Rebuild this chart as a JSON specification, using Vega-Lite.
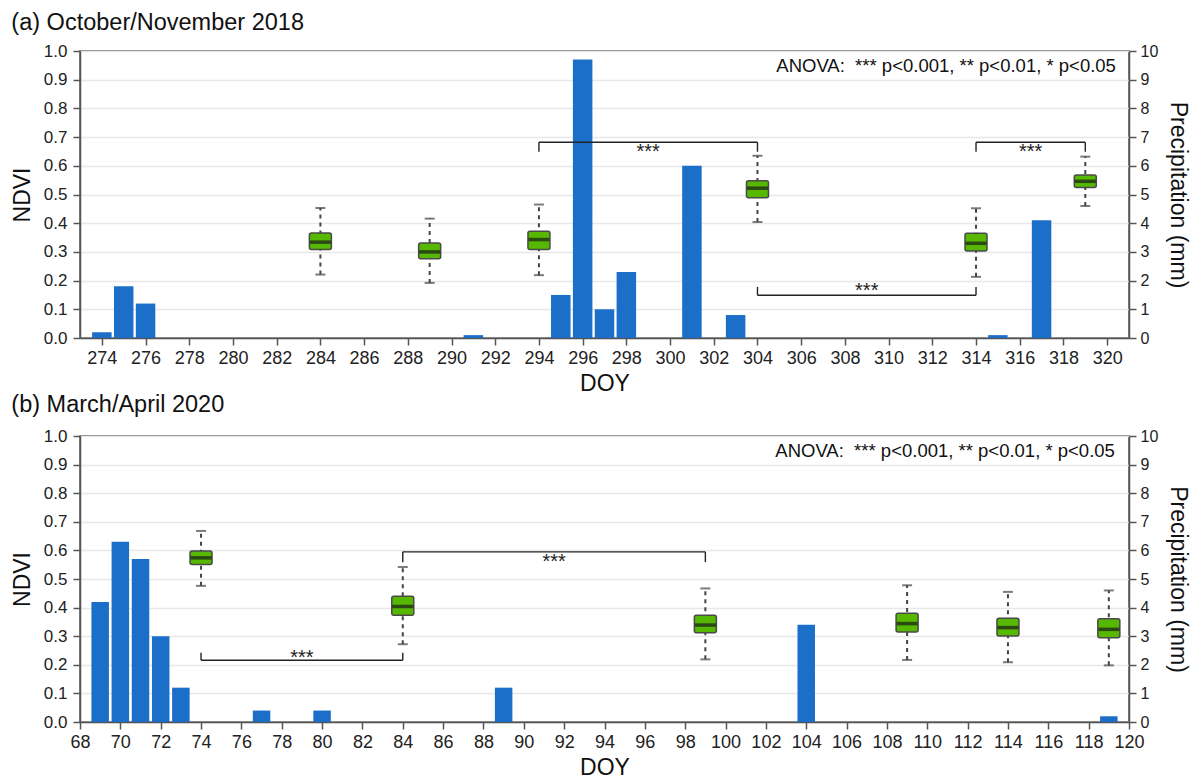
{
  "$schema": "https://vega.github.io/schema/vega-lite/v6.json",
  "padding": {"left": 10, "top": 9, "right": 6, "bottom": 0},
  "spacing": -5,
  "config": {
    "font": "Liberation Sans",
    "view": {"stroke": "#555555", "strokeWidth": 1.5},
    "scale": {"continuousPadding": 0},
    "axis": {
      "labelColor": "#222222", "labelFlush": false, "labelOverlap": false,
      "titleFontWeight": "normal", "titleColor": "#111111",
      "domainColor": "#555555", "domainWidth": 1.5, "tickColor": "#555555", "tickWidth": 1.5, "tickSize": 7,
      "labelPadding": 4, "gridColor": "#e8e8e8", "gridWidth": 1.5
    },
    "axisX": {"titlePadding": 5, "labelFontSize": 18, "titleFontSize": 23},
    "axisLeft": {"titlePadding": 9, "labelFontSize": 17, "titleFontSize": 23, "labelPadding": 6},
    "axisRight": {"titlePadding": 8, "labelFontSize": 16, "titleFontSize": 23},
    "title": {"fontSize": 23.5, "fontWeight": "normal", "color": "#111111", "anchor": "start", "frame": "bounds"}
  },
  "datasets": {
    "precipA": [
      {"doy": 274, "precip": 0.2}, {"doy": 275, "precip": 1.8}, {"doy": 276, "precip": 1.2},
      {"doy": 291, "precip": 0.1}, {"doy": 295, "precip": 1.5}, {"doy": 296, "precip": 9.7},
      {"doy": 297, "precip": 1.0}, {"doy": 298, "precip": 2.3}, {"doy": 301, "precip": 6.0},
      {"doy": 303, "precip": 0.8}, {"doy": 315, "precip": 0.1}, {"doy": 317, "precip": 4.1}
    ],
    "boxA": [
      {"doy": 284, "min": 0.221, "q1": 0.308, "med": 0.334, "q3": 0.366, "max": 0.453},
      {"doy": 289, "min": 0.192, "q1": 0.276, "med": 0.300, "q3": 0.331, "max": 0.416},
      {"doy": 294, "min": 0.219, "q1": 0.308, "med": 0.343, "q3": 0.372, "max": 0.465},
      {"doy": 304, "min": 0.404, "q1": 0.489, "med": 0.522, "q3": 0.548, "max": 0.635},
      {"doy": 314, "min": 0.213, "q1": 0.303, "med": 0.330, "q3": 0.365, "max": 0.452},
      {"doy": 319, "min": 0.460, "q1": 0.524, "med": 0.546, "q3": 0.568, "max": 0.632}
    ],
    "brkA": [
      {"x1": 294, "x2": 304, "y": 0.682, "yEnd": 0.649, "lx": 299, "ly": 0.683, "label": "***"},
      {"x1": 304, "x2": 314, "y": 0.149, "yEnd": 0.178, "lx": 309, "ly": 0.198, "label": "***"},
      {"x1": 314, "x2": 319, "y": 0.682, "yEnd": 0.649, "lx": 316.5, "ly": 0.683, "label": "***"}
    ],
    "precipB": [
      {"doy": 69, "precip": 4.2}, {"doy": 70, "precip": 6.3}, {"doy": 71, "precip": 5.7},
      {"doy": 72, "precip": 3.0}, {"doy": 73, "precip": 1.2}, {"doy": 77, "precip": 0.4},
      {"doy": 80, "precip": 0.4}, {"doy": 89, "precip": 1.2}, {"doy": 104, "precip": 3.4},
      {"doy": 119, "precip": 0.2}
    ],
    "boxB": [
      {"doy": 74, "min": 0.476, "q1": 0.551, "med": 0.574, "q3": 0.598, "max": 0.668},
      {"doy": 84, "min": 0.272, "q1": 0.373, "med": 0.404, "q3": 0.440, "max": 0.542},
      {"doy": 99, "min": 0.219, "q1": 0.312, "med": 0.339, "q3": 0.373, "max": 0.467},
      {"doy": 109, "min": 0.217, "q1": 0.315, "med": 0.344, "q3": 0.380, "max": 0.478},
      {"doy": 114, "min": 0.209, "q1": 0.301, "med": 0.330, "q3": 0.363, "max": 0.455},
      {"doy": 119, "min": 0.198, "q1": 0.295, "med": 0.324, "q3": 0.361, "max": 0.460}
    ],
    "brkB": [
      {"x1": 74, "x2": 84, "y": 0.216, "yEnd": 0.242, "lx": 79, "ly": 0.259, "label": "***"},
      {"x1": 84, "x2": 99, "y": 0.595, "yEnd": 0.559, "lx": 91.5, "ly": 0.596, "label": "***"}
    ],
    "notes": [{"label": "ANOVA:\u00a0 *** p<0.001, ** p<0.01, * p<0.05"}]
  },
  "vconcat": [
    {
      "title": {"text": "(a) October/November 2018", "offset": 8},
      "width": 1049,
      "height": 287,
      "resolve": {"scale": {"x": "independent", "y": "independent"}, "axis": {"x": "independent", "y": "independent"}},
      "layer": [
        {
          "data": {"name": "precipA"},
          "mark": {"type": "bar", "width": 19.5, "color": "#1b6fc8"},
          "encoding": {
            "x": {"field": "doy", "type": "quantitative", "scale": {"domain": [273, 321], "nice": false, "zero": false, "padding": 0},
                  "axis": {"title": "DOY", "grid": false, "labelOverlap": false, "values": [274,276,278,280,282,284,286,288,290,292,294,296,298,300,302,304,306,308,310,312,314,316,318,320]}},
            "y": {"field": "precip", "type": "quantitative", "scale": {"domain": [0, 10], "nice": false, "padding": 0},
                  "axis": {"orient": "right", "title": "Precipitation (mm)", "grid": false, "labelOverlap": false, "values": [0,1,2,3,4,5,6,7,8,9,10], "format": "d"}}
          }
        },
        {
          "data": {"name": "boxA"},
          "mark": {"type": "rule", "color": "#444444", "strokeWidth": 2, "strokeDash": [4, 4]},
          "encoding": {
            "x": {"field": "doy", "type": "quantitative", "scale": {"domain": [273, 321], "nice": false, "zero": false, "padding": 0}, "axis": null},
            "y": {"field": "min", "type": "quantitative", "scale": {"domain": [0, 1], "nice": false, "padding": 0},
                  "axis": {"orient": "left", "title": "NDVI", "grid": true, "labelOverlap": false, "values": [0,0.1,0.2,0.3,0.4,0.5,0.6,0.7,0.8,0.9,1], "format": ".1f"}},
            "y2": {"field": "max"}
          }
        },
        {
          "data": {"name": "boxA"},
          "mark": {"type": "tick", "orient": "horizontal", "color": "#444444", "size": 10, "thickness": 2},
          "encoding": {
            "x": {"field": "doy", "type": "quantitative", "scale": {"domain": [273, 321], "nice": false, "zero": false, "padding": 0}, "axis": null},
            "y": {"field": "min", "type": "quantitative", "scale": {"domain": [0, 1], "nice": false, "padding": 0}, "axis": null}
          }
        },
        {
          "data": {"name": "boxA"},
          "mark": {"type": "tick", "orient": "horizontal", "color": "#444444", "size": 10, "thickness": 2},
          "encoding": {
            "x": {"field": "doy", "type": "quantitative", "scale": {"domain": [273, 321], "nice": false, "zero": false, "padding": 0}, "axis": null},
            "y": {"field": "max", "type": "quantitative", "scale": {"domain": [0, 1], "nice": false, "padding": 0}, "axis": null}
          }
        },
        {
          "data": {"name": "boxA"},
          "mark": {"type": "bar", "width": 22, "color": "#56b800", "stroke": "#4a4a4a", "strokeWidth": 1.5, "cornerRadius": 2},
          "encoding": {
            "x": {"field": "doy", "type": "quantitative", "scale": {"domain": [273, 321], "nice": false, "zero": false, "padding": 0}, "axis": null},
            "y": {"field": "q1", "type": "quantitative", "scale": {"domain": [0, 1], "nice": false, "padding": 0}, "axis": null},
            "y2": {"field": "q3"}
          }
        },
        {
          "data": {"name": "boxA"},
          "mark": {"type": "tick", "orient": "horizontal", "color": "#1a1a1a", "size": 21, "thickness": 3.5},
          "encoding": {
            "x": {"field": "doy", "type": "quantitative", "scale": {"domain": [273, 321], "nice": false, "zero": false, "padding": 0}, "axis": null},
            "y": {"field": "med", "type": "quantitative", "scale": {"domain": [0, 1], "nice": false, "padding": 0}, "axis": null}
          }
        },
        {
          "data": {"name": "brkA"},
          "mark": {"type": "rule", "color": "#222222", "strokeWidth": 1.4},
          "encoding": {
            "x": {"field": "x1", "type": "quantitative", "scale": {"domain": [273, 321], "nice": false, "zero": false, "padding": 0}, "axis": null},
            "x2": {"field": "x2"},
            "y": {"field": "y", "type": "quantitative", "scale": {"domain": [0, 1], "nice": false, "padding": 0}, "axis": null}
          }
        },
        {
          "data": {"name": "brkA"},
          "mark": {"type": "rule", "color": "#222222", "strokeWidth": 1.4},
          "encoding": {
            "x": {"field": "x1", "type": "quantitative", "scale": {"domain": [273, 321], "nice": false, "zero": false, "padding": 0}, "axis": null},
            "y": {"field": "y", "type": "quantitative", "scale": {"domain": [0, 1], "nice": false, "padding": 0}, "axis": null},
            "y2": {"field": "yEnd"}
          }
        },
        {
          "data": {"name": "brkA"},
          "mark": {"type": "rule", "color": "#222222", "strokeWidth": 1.4},
          "encoding": {
            "x": {"field": "x2", "type": "quantitative", "scale": {"domain": [273, 321], "nice": false, "zero": false, "padding": 0}, "axis": null},
            "y": {"field": "y", "type": "quantitative", "scale": {"domain": [0, 1], "nice": false, "padding": 0}, "axis": null},
            "y2": {"field": "yEnd"}
          }
        },
        {
          "data": {"name": "brkA"},
          "mark": {"type": "text", "fontSize": 20, "color": "#222222", "baseline": "top", "align": "center"},
          "encoding": {
            "x": {"field": "lx", "type": "quantitative", "scale": {"domain": [273, 321], "nice": false, "zero": false, "padding": 0}, "axis": null},
            "y": {"field": "ly", "type": "quantitative", "scale": {"domain": [0, 1], "nice": false, "padding": 0}, "axis": null},
            "text": {"field": "label"}
          }
        },
        {
          "data": {"name": "notes"},
          "mark": {"type": "text", "fontSize": 18.5, "color": "#111111", "baseline": "middle", "align": "right"},
          "encoding": {
            "x": {"datum": 320.4, "type": "quantitative", "scale": {"domain": [273, 321], "nice": false, "zero": false, "padding": 0}, "axis": null},
            "y": {"datum": 0.947, "type": "quantitative", "scale": {"domain": [0, 1], "nice": false, "padding": 0}, "axis": null},
            "text": {"field": "label"}
          }
        }
      ]
    },
    {
      "title": {"text": "(b) March/April 2020", "offset": 11},
      "width": 1049,
      "height": 286,
      "resolve": {"scale": {"x": "independent", "y": "independent"}, "axis": {"x": "independent", "y": "independent"}},
      "layer": [
        {
          "data": {"name": "precipB"},
          "mark": {"type": "bar", "width": 17.5, "color": "#1b6fc8"},
          "encoding": {
            "x": {"field": "doy", "type": "quantitative", "scale": {"domain": [68, 120], "nice": false, "zero": false, "padding": 0},
                  "axis": {"title": "DOY", "grid": false, "labelOverlap": false, "values": [68,70,72,74,76,78,80,82,84,86,88,90,92,94,96,98,100,102,104,106,108,110,112,114,116,118,120]}},
            "y": {"field": "precip", "type": "quantitative", "scale": {"domain": [0, 10], "nice": false, "padding": 0},
                  "axis": {"orient": "right", "title": "Precipitation (mm)", "grid": false, "labelOverlap": false, "values": [0,1,2,3,4,5,6,7,8,9,10], "format": "d"}}
          }
        },
        {
          "data": {"name": "boxB"},
          "mark": {"type": "rule", "color": "#444444", "strokeWidth": 2, "strokeDash": [4, 4]},
          "encoding": {
            "x": {"field": "doy", "type": "quantitative", "scale": {"domain": [68, 120], "nice": false, "zero": false, "padding": 0}, "axis": null},
            "y": {"field": "min", "type": "quantitative", "scale": {"domain": [0, 1], "nice": false, "padding": 0},
                  "axis": {"orient": "left", "title": "NDVI", "grid": true, "labelOverlap": false, "values": [0,0.1,0.2,0.3,0.4,0.5,0.6,0.7,0.8,0.9,1], "format": ".1f"}},
            "y2": {"field": "max"}
          }
        },
        {
          "data": {"name": "boxB"},
          "mark": {"type": "tick", "orient": "horizontal", "color": "#444444", "size": 10, "thickness": 2},
          "encoding": {
            "x": {"field": "doy", "type": "quantitative", "scale": {"domain": [68, 120], "nice": false, "zero": false, "padding": 0}, "axis": null},
            "y": {"field": "min", "type": "quantitative", "scale": {"domain": [0, 1], "nice": false, "padding": 0}, "axis": null}
          }
        },
        {
          "data": {"name": "boxB"},
          "mark": {"type": "tick", "orient": "horizontal", "color": "#444444", "size": 10, "thickness": 2},
          "encoding": {
            "x": {"field": "doy", "type": "quantitative", "scale": {"domain": [68, 120], "nice": false, "zero": false, "padding": 0}, "axis": null},
            "y": {"field": "max", "type": "quantitative", "scale": {"domain": [0, 1], "nice": false, "padding": 0}, "axis": null}
          }
        },
        {
          "data": {"name": "boxB"},
          "mark": {"type": "bar", "width": 22, "color": "#56b800", "stroke": "#4a4a4a", "strokeWidth": 1.5, "cornerRadius": 2},
          "encoding": {
            "x": {"field": "doy", "type": "quantitative", "scale": {"domain": [68, 120], "nice": false, "zero": false, "padding": 0}, "axis": null},
            "y": {"field": "q1", "type": "quantitative", "scale": {"domain": [0, 1], "nice": false, "padding": 0}, "axis": null},
            "y2": {"field": "q3"}
          }
        },
        {
          "data": {"name": "boxB"},
          "mark": {"type": "tick", "orient": "horizontal", "color": "#1a1a1a", "size": 21, "thickness": 3.5},
          "encoding": {
            "x": {"field": "doy", "type": "quantitative", "scale": {"domain": [68, 120], "nice": false, "zero": false, "padding": 0}, "axis": null},
            "y": {"field": "med", "type": "quantitative", "scale": {"domain": [0, 1], "nice": false, "padding": 0}, "axis": null}
          }
        },
        {
          "data": {"name": "brkB"},
          "mark": {"type": "rule", "color": "#222222", "strokeWidth": 1.4},
          "encoding": {
            "x": {"field": "x1", "type": "quantitative", "scale": {"domain": [68, 120], "nice": false, "zero": false, "padding": 0}, "axis": null},
            "x2": {"field": "x2"},
            "y": {"field": "y", "type": "quantitative", "scale": {"domain": [0, 1], "nice": false, "padding": 0}, "axis": null}
          }
        },
        {
          "data": {"name": "brkB"},
          "mark": {"type": "rule", "color": "#222222", "strokeWidth": 1.4},
          "encoding": {
            "x": {"field": "x1", "type": "quantitative", "scale": {"domain": [68, 120], "nice": false, "zero": false, "padding": 0}, "axis": null},
            "y": {"field": "y", "type": "quantitative", "scale": {"domain": [0, 1], "nice": false, "padding": 0}, "axis": null},
            "y2": {"field": "yEnd"}
          }
        },
        {
          "data": {"name": "brkB"},
          "mark": {"type": "rule", "color": "#222222", "strokeWidth": 1.4},
          "encoding": {
            "x": {"field": "x2", "type": "quantitative", "scale": {"domain": [68, 120], "nice": false, "zero": false, "padding": 0}, "axis": null},
            "y": {"field": "y", "type": "quantitative", "scale": {"domain": [0, 1], "nice": false, "padding": 0}, "axis": null},
            "y2": {"field": "yEnd"}
          }
        },
        {
          "data": {"name": "brkB"},
          "mark": {"type": "text", "fontSize": 20, "color": "#222222", "baseline": "top", "align": "center"},
          "encoding": {
            "x": {"field": "lx", "type": "quantitative", "scale": {"domain": [68, 120], "nice": false, "zero": false, "padding": 0}, "axis": null},
            "y": {"field": "ly", "type": "quantitative", "scale": {"domain": [0, 1], "nice": false, "padding": 0}, "axis": null},
            "text": {"field": "label"}
          }
        },
        {
          "data": {"name": "notes"},
          "mark": {"type": "text", "fontSize": 18.5, "color": "#111111", "baseline": "middle", "align": "right"},
          "encoding": {
            "x": {"datum": 119.3, "type": "quantitative", "scale": {"domain": [68, 120], "nice": false, "zero": false, "padding": 0}, "axis": null},
            "y": {"datum": 0.948, "type": "quantitative", "scale": {"domain": [0, 1], "nice": false, "padding": 0}, "axis": null},
            "text": {"field": "label"}
          }
        }
      ]
    }
  ]
}
